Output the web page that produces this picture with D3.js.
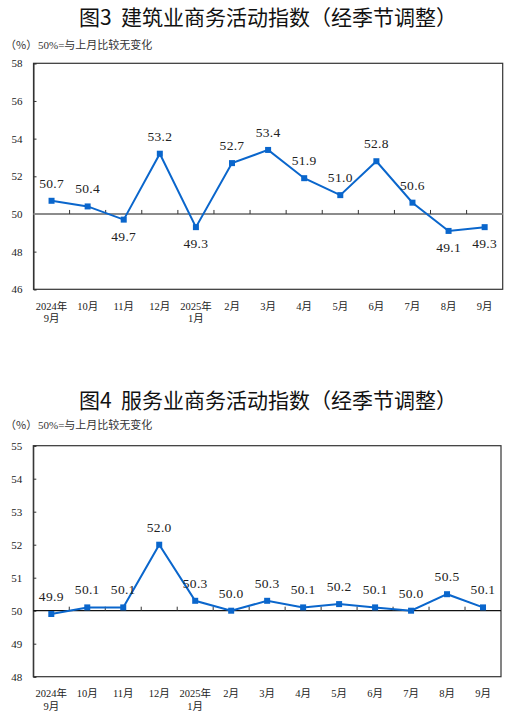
<!DOCTYPE html>
<html>
<head>
<meta charset="utf-8">
<script src="https://cdn.jsdelivr.net/npm/d3@7"></script>
<style>
  html, body { margin: 0; padding: 0; background: #fff; }
  svg { display: block; }
  text { white-space: pre; }
</style>
</head>
<body>
<svg id="chart" width="525" height="721"></svg>
<script>
// ---- data ----
const months = ["2024年\n9月", "10月", "11月", "12月", "2025年\n1月", "2月", "3月", "4月", "5月", "6月", "7月", "8月", "9月"];
const constructionValues = [50.7, 50.4, 49.7, 53.2, 49.3, 52.7, 53.4, 51.9, 51.0, 52.8, 50.6, 49.1, 49.3];
const servicesValues = [49.9, 50.1, 50.1, 52.0, 50.3, 50.0, 50.3, 50.1, 50.2, 50.1, 50.0, 50.5, 50.1];
const constructionTicks = [46, 48, 50, 52, 54, 56, 58];
const servicesTicks = [48, 49, 50, 51, 52, 53, 54, 55];
const titles = ["图3  建筑业商务活动指数（经季节调整）", "图4  服务业商务活动指数（经季节调整）"];
const unitLabel = "（%）";
const noteLabel = "50%=与上月比较无变化";

const svg = d3.select("#chart");
const lineColor = "#0a66cc";
const serif = "'Liberation Serif', 'Times New Roman', 'Noto Sans CJK SC', serif";

function drawChart(cfg) {
  const g = svg.append("g");
  const { left, right, top, bottom } = cfg;

  // title
  g.append("text")
    .attr("x", 268).attr("y", cfg.titleY)
    .attr("text-anchor", "middle")
    .attr("font-family", "'Noto Sans CJK SC', sans-serif")
    .attr("font-size", 21).attr("font-weight", 400)
    .attr("fill", "#111")
    .text(cfg.title);

  // subtitle
  g.append("text")
    .attr("x", 5).attr("y", cfg.subY)
    .attr("font-family", "'Noto Sans CJK SC', sans-serif")
    .attr("font-size", 11).attr("fill", "#333")
    .text(unitLabel);
  g.append("text")
    .attr("x", 38).attr("y", cfg.subY)
    .attr("font-family", serif)
    .attr("font-size", 11).attr("fill", "#333")
    .text(noteLabel);

  const x = d3.scaleBand().domain(months).range([left, right]).padding(0);
  const y = d3.scaleLinear().domain(cfg.domain).range([bottom, top]);
  const cx = d => x(d) + x.bandwidth() / 2;

  // frame
  g.append("rect")
    .attr("x", left).attr("y", top)
    .attr("width", right - left).attr("height", bottom - top)
    .attr("fill", "none").attr("stroke", "#333").attr("stroke-width", 1.2);

  // y axis
  const yAxis = d3.axisLeft(y).tickValues(cfg.ticks).tickSize(-3).tickPadding(11).tickFormat(d3.format("d"));
  const ya = g.append("g").attr("transform", `translate(${left},0)`).call(yAxis);
  ya.select(".domain").attr("stroke", "#333");
  ya.selectAll(".tick line").attr("stroke", "#333");
  ya.selectAll(".tick text")
    .attr("font-family", serif).attr("font-size", 11).attr("fill", "#222");

  // 50 baseline
  const y50 = y(50);
  g.append("line")
    .attr("x1", left).attr("x2", right)
    .attr("y1", y50).attr("y2", y50)
    .attr("stroke", cfg.baseColor).attr("stroke-width", cfg.baseWidth);

  // category tick marks on baseline (band boundaries)
  g.selectAll(".ctick").data(months.slice(1)).enter().append("line")
    .attr("x1", d => x(d)).attr("x2", d => x(d))
    .attr("y1", y50).attr("y2", y50 - 4)
    .attr("stroke", "#333").attr("stroke-width", 1);

  // x axis labels
  const xAxis = d3.axisBottom(x).tickSize(0).tickPadding(0).tickFormat("");
  const xa = g.append("g").attr("transform", `translate(0,${bottom})`).call(xAxis);
  xa.select(".domain").remove();
  xa.selectAll(".tick").each(function(d) {
    const parts = d.split("\n");
    const t = d3.select(this).append("text")
      .attr("text-anchor", "middle")
      .attr("font-family", serif).attr("font-size", 10.5).attr("fill", "#222");
    parts.forEach((p, i) => {
      t.append("tspan").attr("x", 0).attr("y", 20.5 + i * 12.5).text(p);
    });
  });

  // line
  const vals = cfg.values;
  const line = d3.line().x((d, i) => cx(months[i])).y(d => y(d));
  g.append("path").datum(vals)
    .attr("d", line).attr("fill", "none")
    .attr("stroke", lineColor).attr("stroke-width", 2);

  // markers
  g.selectAll(".mk").data(vals).enter().append("rect")
    .attr("x", (d, i) => cx(months[i]) - 3)
    .attr("y", d => y(d) - 3)
    .attr("width", 6).attr("height", 6)
    .attr("fill", lineColor);

  // value labels
  g.selectAll(".lbl").data(vals).enter().append("text")
    .attr("x", (d, i) => cx(months[i]))
    .attr("y", d => (cfg.belowUnder50 && d < 50) ? y(d) + 21 : y(d) - 13)
    .attr("text-anchor", "middle")
    .attr("font-family", serif).attr("font-size", 13.5)
    .attr("letter-spacing", 0.3)
    .attr("fill", "#222")
    .text(d => d.toFixed(1));
}

drawChart({
  title: titles[0], titleY: 25, subY: 49,
  left: 33.5, right: 502.7, top: 63.3, bottom: 289.3,
  domain: [46, 58], ticks: constructionTicks, values: constructionValues,
  baseColor: "#8c8c8c", baseWidth: 2, belowUnder50: true
});

drawChart({
  title: titles[1], titleY: 407.5, subY: 429,
  left: 33.3, right: 501, top: 445.7, bottom: 676.7,
  domain: [48, 55], ticks: servicesTicks, values: servicesValues,
  baseColor: "#111", baseWidth: 1.2, belowUnder50: false
});
</script>
</body>
</html>
